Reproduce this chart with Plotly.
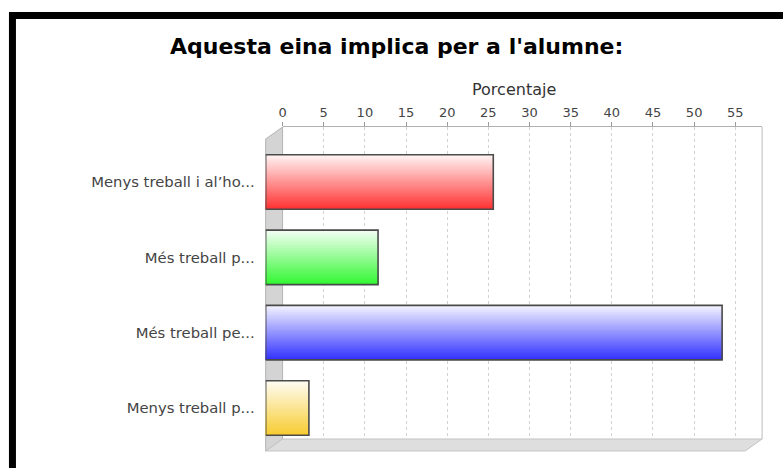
import plotly.graph_objects as go

# ---------------- data ----------------
categories = ["Menys treball i al’ho...", "Més treball p...", "Més treball pe...", "Menys treball p..."]
values = [25.6, 11.6, 53.4, 3.2]          # Porcentaje
tick_vals = [0, 5, 10, 15, 20, 25, 30, 35, 40, 45, 50, 55]
bar_colors = [(255, 0, 0), (0, 245, 0), (0, 0, 255), (245, 192, 0)]
title_text = "Aquesta eina implica per a l'alumne:"
axis_title = "Porcentaje"

# ---------------- geometry (pixels) ----------------
W, H = 783, 468
BX0, BX1, BY0, BY1 = 280, 762, 127, 439      # back plane
DX, DY = 17, 12                              # 3D offset
FX0, FX1, FY0, FY1 = BX0 - DX, BX1 - DX, BY0 + DY, BY1 + DY
XMAX = 58.26
PPU = (BX1 - BX0) / XMAX
D = DX / PPU                                 # wall depth in data units
NCAT = len(categories)
PAD = 0.572                                  # category axis margin (units)
BW = 0.724                                   # bar thickness (category units)
K = 40                                       # gradient steps
ALPHA = 0.8
FONT = "DejaVu Sans"


def px(x):
    return x / W


def py(y):
    return 1 - y / H


def mix(c, f):
    return tuple(round(255 * (1 - f) + ch * f) for ch in c)


fig = go.Figure()

# gradient: nested bands, each from its start down to the bar bottom
for k in range(K):
    t = k / (K - 1)
    f = (0.06 + 0.94 * t) * ALPHA
    cols = ["rgb(%d,%d,%d)" % mix(c, f) for c in bar_colors]
    fig.add_trace(go.Bar(
        orientation="h", y=categories, x=[v + D for v in values], base=[-D] * NCAT,
        width=BW - k * BW / K, offset=-BW / 2 + k * BW / K,
        marker=dict(color=cols, line=dict(width=0)),
        xaxis="x2", yaxis="y", showlegend=False, hoverinfo="skip"))

# outline
fig.add_trace(go.Bar(
    orientation="h", y=categories, x=[v + D for v in values], base=[-D] * NCAT,
    width=BW, offset=-BW / 2,
    marker=dict(color="rgba(0,0,0,0)", line=dict(width=1.6, color="#4a4a4a")),
    xaxis="x2", yaxis="y", showlegend=False,
    customdata=values, hovertemplate="%{y}: %{customdata}<extra></extra>"))

# dummy trace to keep the back-plane axis
fig.add_trace(go.Scatter(x=[None], y=[None], xaxis="x", yaxis="y2", showlegend=False))

shapes = [
    # left wall
    dict(type="path", xref="paper", yref="paper", layer="below",
         path="M %f,%f L %f,%f L %f,%f L %f,%f Z" % (px(FX0), py(FY0), px(BX0), py(BY0),
                                                    px(BX0), py(BY1), px(FX0), py(FY1)),
         fillcolor="#d4d4d4", line=dict(color="#b4b4b4", width=1)),
    # floor
    dict(type="path", xref="paper", yref="paper", layer="below",
         path="M %f,%f L %f,%f L %f,%f L %f,%f Z" % (px(FX0), py(FY1), px(BX0), py(BY1),
                                                    px(BX1), py(BY1), px(FX1), py(FY1)),
         fillcolor="#dedede", line=dict(color="#c4c4c4", width=1)),
    # back plane right edge
    dict(type="line", xref="paper", yref="paper", layer="below",
         x0=px(BX1), x1=px(BX1), y0=py(BY0), y1=py(BY1),
         line=dict(color="#bdbdbd", width=1)),
    # black frame (top and left edges visible)
    dict(type="rect", xref="paper", yref="paper", layer="above",
         x0=px(8.5), x1=px(800), y0=py(15.5), y1=py(490),
         line=dict(color="black", width=7), fillcolor="rgba(0,0,0,0)"),
]

annotations = [
    dict(text="<b>%s</b>" % title_text, xref="paper", yref="paper", x=px(395), y=py(47),
         xanchor="center", yanchor="middle", showarrow=False,
         font=dict(family=FONT, size=22, color="black")),
    dict(text=axis_title, xref="paper", yref="paper", x=px((FX0 + BX1) / 2), y=py(90),
         xanchor="center", yanchor="middle", showarrow=False,
         font=dict(family=FONT, size=16, color="#333333")),
]

fig.update_layout(
    width=W, height=H, margin=dict(l=0, r=0, t=0, b=0),
    paper_bgcolor="white", plot_bgcolor="rgba(0,0,0,0)",
    barmode="overlay", showlegend=False,
    shapes=shapes, annotations=annotations,
    xaxis=dict(domain=[px(BX0), px(BX1)], range=[0, XMAX], anchor="y2", side="top",
               tickmode="array", tickvals=tick_vals, ticks="outside", ticklen=4,
               tickcolor="#9a9a9a", showline=True, linecolor="#b0b0b0", linewidth=1,
               showgrid=True, gridcolor="#d2d2d2", griddash="3px,3px", gridwidth=1,
               zeroline=False, fixedrange=True,
               tickfont=dict(family=FONT, size=13, color="#444444")),
    yaxis2=dict(domain=[py(BY1), py(BY0)], range=[0, 1], anchor="x", visible=False,
                fixedrange=True),
    xaxis2=dict(domain=[px(FX0), px(BX1)], range=[-D, XMAX], anchor="y", visible=False,
                fixedrange=True),
    yaxis=dict(domain=[py(FY1), py(FY0)], type="category", categoryarray=categories,
               categoryorder="array", range=[NCAT - 1 + PAD, -PAD], anchor="x2",
               showgrid=False, zeroline=False, showline=False, ticks="",
               ticklabelstandoff=10, fixedrange=True,
               tickfont=dict(family=FONT, size=14.8, color="#444444")),
)

fig.write_html("out.html", config={"displayModeBar": False},
               post_script="document.body.style.margin='0px';"
                           "document.body.style.overflow='hidden';")
